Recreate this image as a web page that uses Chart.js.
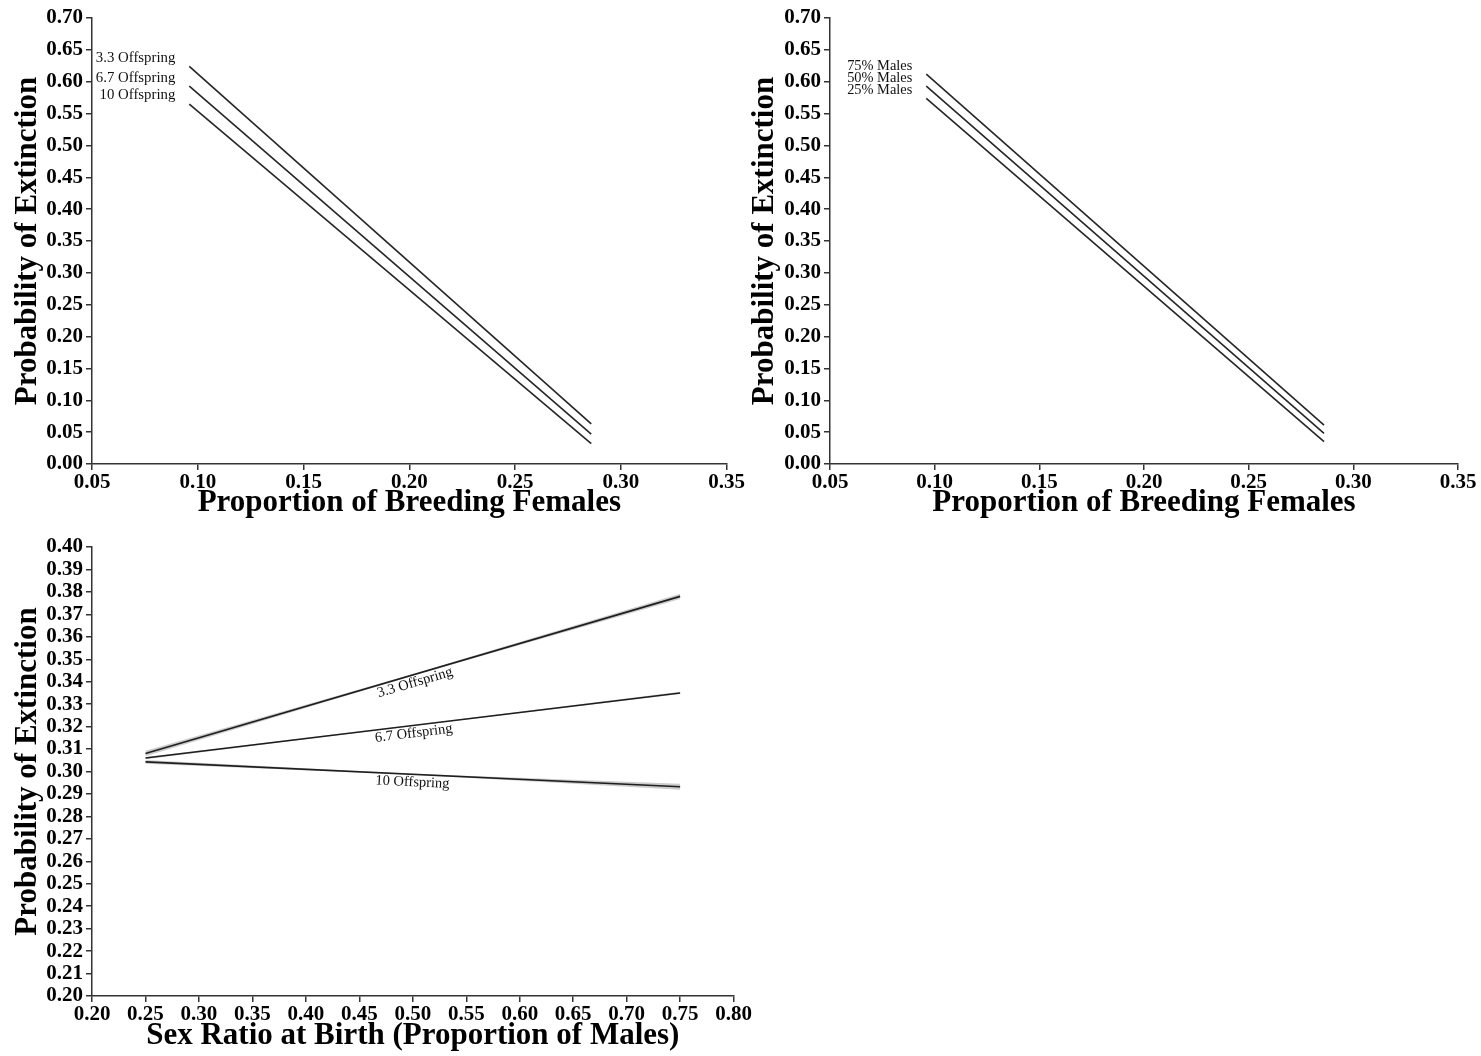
<!DOCTYPE html>
<html>
<head>
<meta charset="utf-8">
<script src="https://cdn.jsdelivr.net/npm/chart.js@4.4.1/dist/chart.umd.min.js"></script>
<style>
  body { margin: 0; background: #fff; width: 1481px; height: 1056px; position: relative; overflow: hidden; }
  canvas { position: absolute; }
  #females-offspring { left: 0; top: 0; }
  #females-males { left: 740px; top: 0; }
  #sex-ratio { left: 0; top: 528px; }
</style>
</head>
<body>
<canvas id="females-offspring" width="745" height="525"></canvas>
<canvas id="females-males" width="741" height="525"></canvas>
<canvas id="sex-ratio" width="752" height="528"></canvas>
<script>
const offspringNames = ['3.3 Offspring', '6.7 Offspring', '10 Offspring'];
const malesNames = ['75% Males', '50% Males', '25% Males'];

// proportion of breeding females (start, end of fitted line)
const femalesX = [0.096, 0.286];
const offspringProb = [[0.624, 0.063], [0.593, 0.047], [0.565, 0.032]];
const malesProb = [[0.612, 0.061], [0.593, 0.048], [0.574, 0.035]];

// sex ratio at birth
const ratioX = [0.25, 0.75];
const ratioProb = [[0.308, 0.378], [0.306, 0.335], [0.3043, 0.2932]];
const bandX = [0.25, 0.50, 0.75];
const ratioUpper = [[0.3092, 0.3434, 0.3792], [0.3065, 0.3207, 0.3355], [0.3051, 0.2990, 0.2945]];
const ratioLower = [[0.3068, 0.3426, 0.3768], [0.3055, 0.3203, 0.3345], [0.3035, 0.2986, 0.2919]];

const femalesTicksX = [0.05, 0.10, 0.15, 0.20, 0.25, 0.30, 0.35];
const femalesTicksY = [0.00, 0.05, 0.10, 0.15, 0.20, 0.25, 0.30, 0.35, 0.40, 0.45, 0.50, 0.55, 0.60, 0.65, 0.70];
const ratioTicksX = [0.20, 0.25, 0.30, 0.35, 0.40, 0.45, 0.50, 0.55, 0.60, 0.65, 0.70, 0.75, 0.80];
const ratioTicksY = [0.20, 0.21, 0.22, 0.23, 0.24, 0.25, 0.26, 0.27, 0.28, 0.29, 0.30,
                     0.31, 0.32, 0.33, 0.34, 0.35, 0.36, 0.37, 0.38, 0.39, 0.40];

const serif = '"Liberation Serif", "Times New Roman", serif';
Chart.defaults.font.family = serif;
Chart.defaults.color = '#000';
Chart.defaults.animation = false;

const lineColor = '#262626';
const axisColor = '#333';

// text next to each fitted line
const lineLabels = {
    id: 'lineLabels',
    afterDatasetsDraw(chart, args, opts) {
        if (!opts.texts) return;
        const ctx = chart.ctx;
        ctx.save();
        ctx.font = opts.size + 'px ' + serif;
        ctx.fillStyle = '#111';
        opts.texts.forEach((text, i) => {
            const pts = chart.getDatasetMeta(opts.lines[i]).data;
            const a = pts[0], b = pts[pts.length - 1];
            if (opts.mode === 'start') {
                ctx.textAlign = 'right';
                ctx.textBaseline = 'middle';
                ctx.fillText(text, a.x - 14, a.y - opts.lift);
            } else {
                const ang = Math.atan2(b.y - a.y, b.x - a.x);
                ctx.save();
                ctx.translate((a.x + b.x) / 2, (a.y + b.y) / 2);
                ctx.rotate(ang);
                ctx.textAlign = 'center';
                ctx.textBaseline = 'middle';
                ctx.fillText(text, 0, 8);
                ctx.restore();
            }
        });
        ctx.restore();
    }
};

function axis(tickValues, titleText, titlePad, fixedSize, horizontal) {
    return {
        type: 'linear',
        min: tickValues[0],
        max: tickValues[tickValues.length - 1],
        afterBuildTicks: scale => { scale.ticks = tickValues.map(v => ({ value: v })); },
        afterFit: scale => {
            if (horizontal) scale.height = fixedSize; else scale.width = fixedSize;
        },
        grid: { drawOnChartArea: false, drawTicks: true, tickLength: 6, color: axisColor, lineWidth: 1.5 },
        border: { display: true, color: axisColor, width: 1.5 },
        ticks: {
            autoSkip: false,
            maxRotation: 0,
            padding: horizontal ? 0 : 3,
            font: { size: 21, weight: 'bold' },
            callback: v => v.toFixed(2)
        },
        title: {
            display: true,
            text: titleText,
            font: { size: 31, weight: 'bold' },
            padding: titlePad
        }
    };
}

function simpleLines(xs, series) {
    return series.map(vals => ({
        data: vals.map((v, i) => ({ x: xs[i], y: v })),
        borderColor: lineColor,
        borderWidth: 1.6,
        pointRadius: 0,
        fill: false
    }));
}

function femalesChart(id, series, names, yWidth, padRight, yPad, labelSize, lift) {
    new Chart(document.getElementById(id), {
        type: 'line',
        data: { datasets: simpleLines(femalesX, series) },
        options: {
            responsive: false,
            layout: { padding: { top: 18, right: padRight, bottom: 0, left: 0 } },
            scales: {
                x: axis(femalesTicksX, 'Proportion of Breeding Females', { top: 0, bottom: 3 }, 61, true),
                y: axis(femalesTicksY, 'Probability of Extinction', { top: yPad, bottom: 0 }, yWidth, false)
            },
            plugins: {
                legend: { display: false },
                tooltip: { enabled: false },
                lineLabels: { texts: names, lines: [0, 1, 2], mode: 'start', size: labelSize, lift: lift }
            }
        },
        plugins: [lineLabels]
    });
}

femalesChart('females-offspring', offspringProb, offspringNames, 92, 18, 9, 14.8, 8.5);
femalesChart('females-males', malesProb, malesNames, 90, 23, 6, 14.4, 8);

// sex ratio panel: shaded bands first, fitted lines on top
const ratioSets = [];
ratioUpper.forEach((up, k) => {
    ratioSets.push({
        data: up.map((v, i) => ({ x: bandX[i], y: v })),
        borderWidth: 0, pointRadius: 0,
        backgroundColor: 'rgba(0,0,0,0.2)',
        fill: '+1'
    });
    ratioSets.push({
        data: ratioLower[k].map((v, i) => ({ x: bandX[i], y: v })),
        borderWidth: 0, pointRadius: 0, fill: false
    });
});
simpleLines(ratioX, ratioProb).forEach(d => ratioSets.push(d));

new Chart(document.getElementById('sex-ratio'), {
    type: 'line',
    data: { datasets: ratioSets },
    options: {
        responsive: false,
        layout: { padding: { top: 19, right: 18, bottom: 0, left: 0 } },
        scales: {
            x: axis(ratioTicksX, 'Sex Ratio at Birth (Proportion of Males)', { top: 0, bottom: 1 }, 60, true),
            y: axis(ratioTicksY, 'Probability of Extinction', { top: 9, bottom: 0 }, 92, false)
        },
        plugins: {
            legend: { display: false },
            tooltip: { enabled: false },
            lineLabels: { texts: offspringNames, lines: [6, 7, 8], mode: 'along', size: 14.5 }
        }
    },
    plugins: [lineLabels]
});
</script>
</body>
</html>
